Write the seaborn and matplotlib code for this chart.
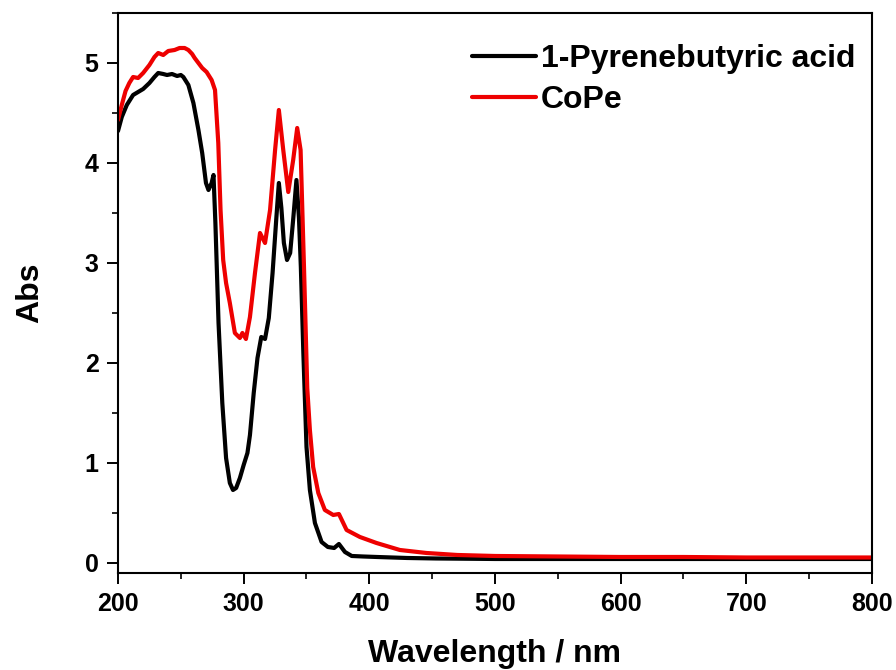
import matplotlib
matplotlib.use("Agg")
import matplotlib.pyplot as plt
from matplotlib.ticker import MultipleLocator
import numpy as np
import pandas as pd
import seaborn as sns

# UV-Vis absorption spectra
wl_pba = [200, 203, 207, 210, 212, 216, 220, 225, 229, 232, 236, 239, 243, 247, 250,
          252, 256, 260, 264, 267, 270, 272, 274.5, 276, 277.5, 280, 283, 286, 289,
          291.5, 294, 297, 300, 303, 305, 308, 311, 314, 317, 320, 323, 326, 328,
          330, 332, 334.5, 337, 339.5, 342, 344, 345.5, 347.5, 350, 352.7, 356.7,
          362, 367, 372, 375.8, 380.6, 386, 395, 406, 430, 453, 500, 550, 600, 650,
          700, 750, 800]
abs_pba = [4.32, 4.46, 4.58, 4.64, 4.68, 4.71, 4.74, 4.80, 4.86, 4.90, 4.89, 4.88,
           4.89, 4.87, 4.88, 4.86, 4.78, 4.60, 4.33, 4.10, 3.80, 3.73, 3.80, 3.88,
           3.40, 2.40, 1.60, 1.05, 0.80, 0.73, 0.75, 0.85, 0.98, 1.10, 1.28, 1.70,
           2.05, 2.26, 2.24, 2.45, 2.90, 3.45, 3.80, 3.55, 3.20, 3.03, 3.10, 3.45,
           3.83, 3.45, 2.96, 2.10, 1.16, 0.73, 0.40, 0.21, 0.16, 0.15, 0.19, 0.11,
           0.07, 0.065, 0.06, 0.05, 0.045, 0.04, 0.04, 0.04, 0.04, 0.04, 0.04, 0.04]

wl_cope = [200, 203, 206, 209, 212, 216, 220, 225, 229, 232, 236, 240, 245, 249,
           253, 256, 259, 261, 264, 267, 270.5, 274.5, 277.2, 279.8, 281.6, 283.7,
           286, 289, 293, 297, 299, 301.8, 305, 309, 313, 317, 321, 325, 328,
           331.5, 335.5, 339.4, 342.6, 345.3, 348, 350.6, 352.7, 355.3, 359.4,
           364.6, 371.3, 375.8, 381.9, 392.5, 405.7, 424.3, 445.5, 470, 500, 550,
           600, 650, 700, 750, 800]
abs_cope = [4.43, 4.58, 4.72, 4.80, 4.86, 4.85, 4.90, 4.98, 5.06, 5.10, 5.08, 5.12,
            5.13, 5.15, 5.15, 5.13, 5.09, 5.05, 5.00, 4.95, 4.91, 4.83, 4.73, 4.20,
            3.53, 3.03, 2.80, 2.60, 2.30, 2.25, 2.30, 2.24, 2.46, 2.90, 3.30, 3.20,
            3.53, 4.13, 4.53, 4.13, 3.71, 4.03, 4.35, 4.13, 2.96, 1.75, 1.33, 0.96,
            0.70, 0.53, 0.48, 0.49, 0.33, 0.26, 0.20, 0.13, 0.10, 0.08, 0.07, 0.065,
            0.06, 0.06, 0.055, 0.055, 0.055]

names = ["1-Pyrenebutyric acid", "CoPe"]
colors = ["#000000", "#ee0000"]

df = pd.concat([
    pd.DataFrame({"Wavelength": wl_pba, "Abs": abs_pba, "Sample": names[0]}),
    pd.DataFrame({"Wavelength": wl_cope, "Abs": abs_cope, "Sample": names[1]}),
], ignore_index=True)

sns.set_style("ticks")
plt.rcParams["font.family"] = ["Liberation Sans", "DejaVu Sans"]
plt.rcParams["font.weight"] = "bold"
for key in ["text.color", "axes.labelcolor", "xtick.color", "ytick.color",
            "axes.edgecolor"]:
    plt.rcParams[key] = "black"

fig = plt.figure(figsize=(8.96, 6.70), dpi=100)
ax = fig.add_axes([0.1317, 0.1448, 0.8415, 0.8358])

sns.lineplot(data=df, x="Wavelength", y="Abs", hue="Sample", hue_order=names,
             palette=colors, linewidth=3.0, ax=ax, sort=False, estimator=None)

ax.set_xlim(200, 800)
ax.set_ylim(-0.1, 5.5)
ax.xaxis.set_major_locator(MultipleLocator(100))
ax.xaxis.set_minor_locator(MultipleLocator(50))
ax.yaxis.set_major_locator(MultipleLocator(1))
ax.yaxis.set_minor_locator(MultipleLocator(0.5))
ax.tick_params(which="major", direction="out", length=8, width=1.4,
               labelsize=18, pad=6)
ax.tick_params(which="minor", direction="out", length=4.5, width=1.2)
for lab in ax.get_xticklabels() + ax.get_yticklabels():
    lab.set_fontweight("bold")
for sp in ax.spines.values():
    sp.set_linewidth(1.5)
    sp.set_visible(True)

ax.set_xlabel("Wavelength / nm", fontsize=23, fontweight="bold", labelpad=16)
ax.set_ylabel("Abs", fontsize=23, fontweight="bold", labelpad=28)

leg = ax.legend(loc="upper right", bbox_to_anchor=(0.995, 0.967), frameon=False,
                handlelength=2.0, handletextpad=0.15, borderaxespad=0.0,
                labelspacing=0.34, prop={"weight": "bold", "size": 23})
for h in leg.get_lines():
    h.set_linewidth(3.0)

fig.savefig("out.png", dpi=100)
